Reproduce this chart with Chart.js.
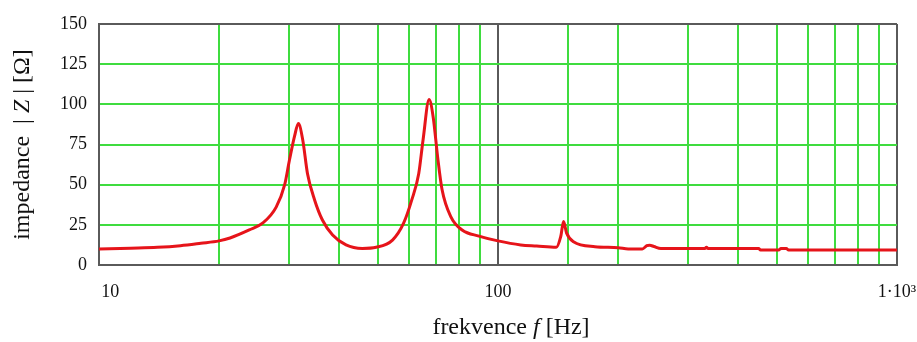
<!DOCTYPE html>
<html>
<head>
<meta charset="utf-8">
<script src="https://cdn.jsdelivr.net/npm/chart.js@4"></script>
<style>
  html, body { margin: 0; padding: 0; background: #fff; }
  #chart-impedance { display: block; }
</style>
</head>
<body>
<canvas id="chart-impedance" width="917" height="342"></canvas>
<script>
// frequency (Hz) and |Z| (ohm)
const freqHz = [10, 12, 14, 16, 18, 20, 21.3, 23.8, 25.7, 27.8, 29.2, 30, 30.9, 31.6, 32.4, 33.3, 34.7, 36.3, 38.5, 41.6, 45.7, 49.5,
  54.4, 58, 60.8, 63.3, 64.9, 67.2, 68.8, 70.6, 72.4, 76.2, 81.3, 89.6, 100, 114, 125, 140, 143.6, 146, 148.5, 154.6, 175,
  200, 212, 230, 236, 240, 246, 256, 300, 330, 333, 336, 450, 455, 505, 512, 528, 535, 700, 1000];
const impedanceOhm = [10, 10.5, 11, 12, 13.5, 15, 16.8, 21.8, 26, 36, 50, 65, 80, 88, 78, 57, 40.5, 28, 18.7, 12.5, 10.3, 11,
  15.5, 26, 40.5, 57, 78, 103, 92, 67, 47, 30, 21.8, 18, 15, 12.5, 11.8, 11, 17.6, 27, 20, 14.5, 11.4,
  10.8, 10, 10, 12, 12.3, 11.5, 10.3, 10.3, 10.3, 11, 10.3, 10.3, 9.3, 9.3, 10.3, 10.3, 9.3, 9.3, 9.3];

const xTickValues = [10, 100, 1000];
const xTickLabels = ["10", "100", "1·10³"];
const yMin = 0, yMax = 150, yStep = 25;

const xTitleParts = [["frekvence ", false], ["f", true], [" [Hz]", false]];
const yTitleParts = [["impedance  | ", false], ["Z", true], [" | [Ω]", false]];

const GREEN = "#3fdc3f";
const DARK = "#5a5a5a";
const SERIF = "'Liberation Serif', 'Times New Roman', serif";

function drawParts(ctx, parts, cx, cy, size) {
  let widths = parts.map(([t, it]) => {
    ctx.font = (it ? "italic " : "") + size + "px " + SERIF;
    return ctx.measureText(t).width;
  });
  let total = widths.reduce((a, b) => a + b, 0);
  let x = cx - total / 2;
  ctx.textAlign = "left";
  ctx.textBaseline = "middle";
  ctx.fillStyle = "#111";
  parts.forEach(([t, it], i) => {
    ctx.font = (it ? "italic " : "") + size + "px " + SERIF;
    ctx.fillText(t, x, cy);
    x += widths[i];
  });
}

const axisTitles = {
  id: "axisTitles",
  afterDraw(chart) {
    const { ctx, chartArea } = chart;
    ctx.save();
    drawParts(ctx, xTitleParts, chartArea.left + (chartArea.right - chartArea.left) / 2 + 13, chartArea.bottom + 63, 24);
    ctx.translate(23, (chartArea.top + chartArea.bottom) / 2);
    ctx.rotate(-Math.PI / 2);
    drawParts(ctx, yTitleParts, 0, 0, 24);
    ctx.restore();
  },
};

const ctx = document.getElementById("chart-impedance").getContext("2d");
new Chart(ctx, {
  type: "line",
  data: {
    datasets: [
      {
        label: "|Z|",
        data: freqHz.map((f, i) => ({ x: f, y: impedanceOhm[i] })),
        borderColor: "#e6141a",
        borderWidth: 3,
        pointRadius: 0,
        cubicInterpolationMode: "monotone",
        fill: false,
      },
    ],
  },
  options: {
    responsive: false,
    animation: false,
    layout: { padding: { top: 24, right: 20, left: 0, bottom: 0 } },
    plugins: { legend: { display: false }, tooltip: { enabled: false } },
    scales: {
      x: {
        type: "logarithmic",
        min: 10,
        max: 1000,
        grid: {
          drawTicks: false,
          lineWidth: 2,
          color: (c) => ([10, 100, 1000].includes(c.tick && c.tick.value) ? DARK : GREEN),
        },
        border: { color: DARK, width: 2 },
        ticks: {
          autoSkip: false,
          maxRotation: 0,
          padding: 16,
          color: "#111",
          font: { family: SERIF, size: 18 },
          callback: (v) => {
            const i = xTickValues.indexOf(v);
            if (i < 0) return "";
            return i === 0 ? "     " + xTickLabels[i] : xTickLabels[i];
          },
        },
        afterFit: (s) => { s.height = 77; s.paddingLeft = 0; s.paddingRight = 0; },
      },
      y: {
        min: yMin,
        max: yMax,
        grid: {
          drawTicks: false,
          lineWidth: 2,
          color: (c) => (c.tick && (c.tick.value === yMin || c.tick.value === yMax) ? DARK : GREEN),
        },
        border: { color: DARK, width: 2 },
        ticks: {
          stepSize: yStep,
          padding: 12,
          color: "#111",
          font: { family: SERIF, size: 18 },
        },
        afterFit: (s) => { s.width = 99; s.paddingTop = 0; s.paddingBottom = 0; },
      },
    },
  },
  plugins: [axisTitles],
});
</script>
</body>
</html>
